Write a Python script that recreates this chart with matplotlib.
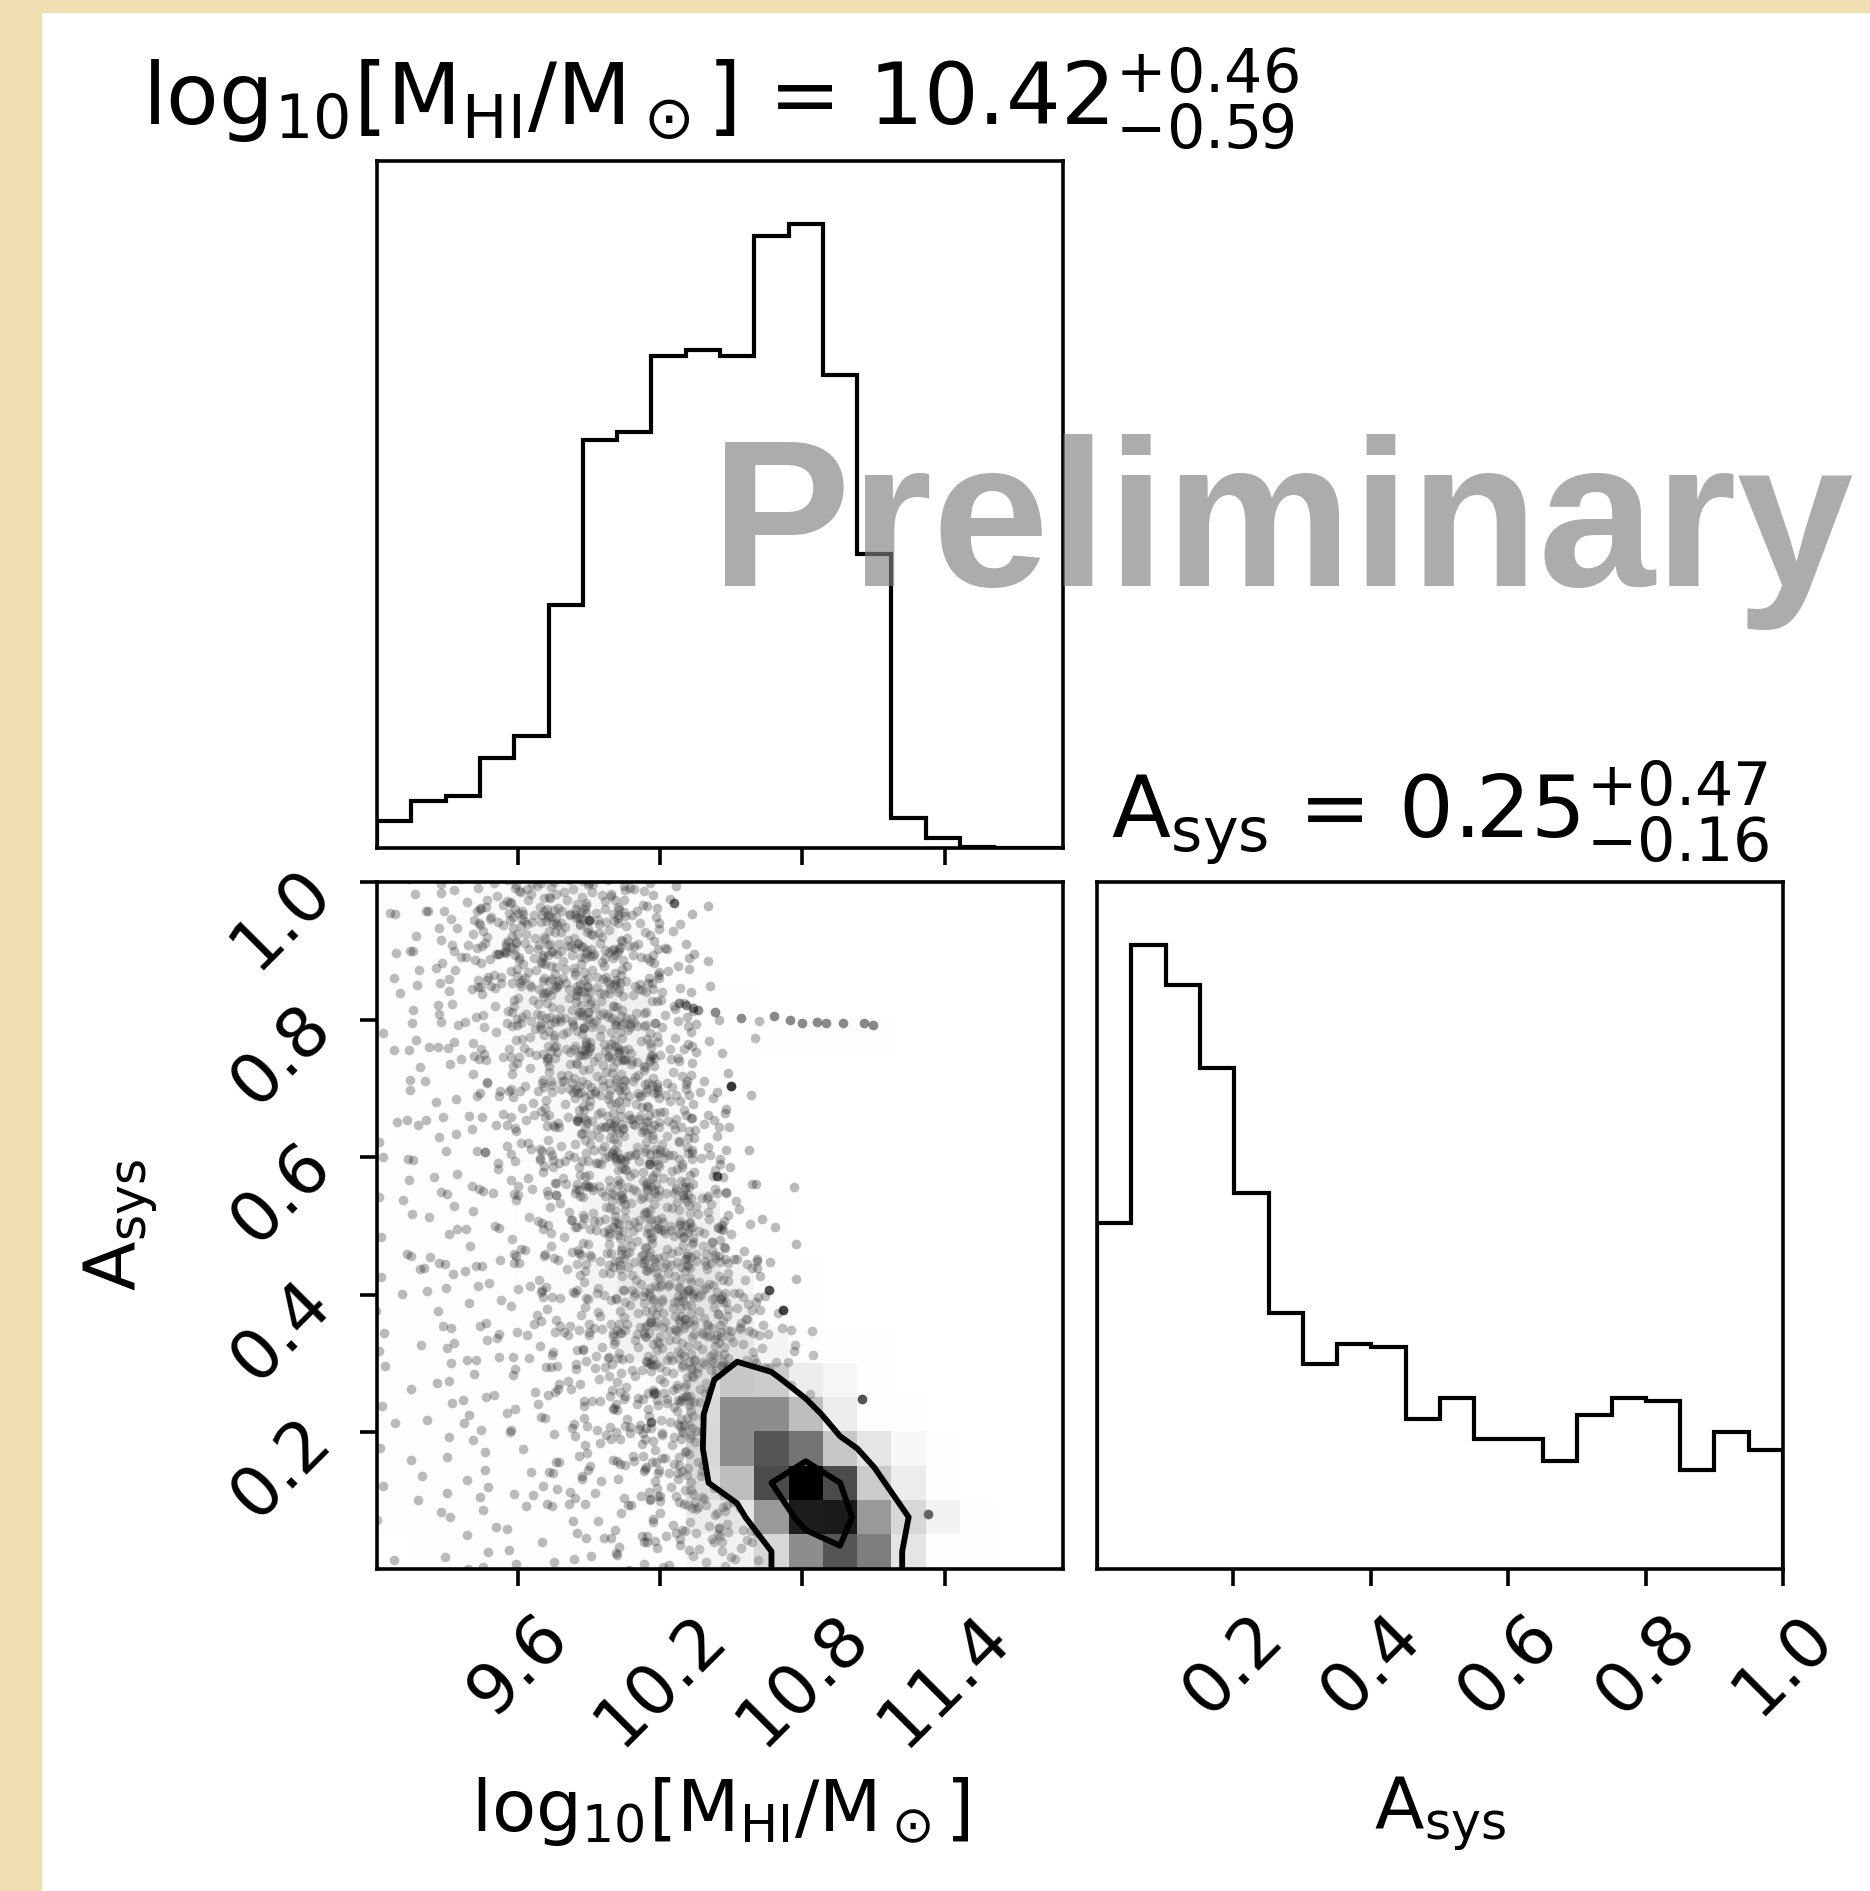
import numpy as np
import matplotlib
matplotlib.use("Agg")
import matplotlib.pyplot as plt
from matplotlib.colors import LinearSegmentedColormap
from matplotlib.patches import Rectangle

# ---------------------------------------------------------------- data
n_bins = 20
logm_range = (9.005, 11.90)
asys_range = (0.002, 1.0)

# marginal posterior histograms (samples per bin)
logm_hist = [27, 47, 52, 91, 114, 247, 415, 423, 500, 506,
             500, 622, 635, 481, 299, 30, 10, 1, 0, 0]
asys_hist = [355, 641, 599, 514, 386, 263, 210, 231, 228, 154,
             175, 133, 133, 111, 158, 175, 172, 101, 140, 122]

# smoothed joint 2-D histogram (density shading and contours): one row per
# A_sys bin, from the highest A_sys bin down to the lowest; 20 log M bins
joint_rows_top_down = [
    [3, 5, 10, 18, 26, 28, 24, 14, 4, 1, 0, 0, 0, 0, 0, 0, 0, 0, 0, 0],
    [3, 5, 10, 19, 28, 32, 29, 18, 6, 1, 0, 0, 0, 0, 0, 0, 0, 0, 0, 0],
    [3, 4, 8, 14, 20, 24, 22, 12, 4, 1, 0, 0, 0, 0, 0, 0, 0, 0, 0, 0],
    [3, 4, 8, 16, 28, 36, 38, 32, 15, 3, 1, 0, 0, 0, 0, 0, 0, 0, 0, 0],
    [3, 4, 7, 13, 24, 33, 36, 30, 17, 6, 4, 3, 3, 2, 1, 0, 0, 0, 0, 0],
    [3, 4, 6, 11, 20, 30, 36, 33, 19, 6, 1, 0, 0, 0, 0, 0, 0, 0, 0, 0],
    [2, 3, 4, 6, 11, 19, 25, 25, 19, 7, 1, 0, 0, 0, 0, 0, 0, 0, 0, 0],
    [2, 3, 4, 6, 11, 19, 27, 30, 28, 12, 2, 0, 0, 0, 0, 0, 0, 0, 0, 0],
    [2, 3, 4, 6, 9, 16, 25, 30, 30, 16, 3, 0, 0, 0, 0, 0, 0, 0, 0, 0],
    [2, 3, 4, 6, 9, 16, 27, 36, 40, 32, 10, 1, 0, 0, 0, 0, 0, 0, 0, 0],
    [2, 3, 3, 5, 8, 13, 22, 30, 35, 32, 10, 2, 0, 0, 0, 0, 0, 0, 0, 0],
    [2, 3, 4, 6, 9, 15, 27, 38, 44, 42, 27, 6, 1, 0, 0, 0, 0, 0, 0, 0],
    [2, 3, 4, 6, 8, 14, 24, 35, 44, 44, 33, 10, 2, 0, 0, 0, 0, 0, 0, 0],
    [2, 3, 4, 5, 7, 12, 20, 30, 40, 44, 44, 26, 12, 5, 2, 0, 0, 0, 0, 0],
    [1, 2, 2, 3, 4, 6, 10, 16, 25, 48, 63, 61, 35, 23, 5, 0, 0, 0, 0, 0],
    [1, 2, 2, 3, 4, 5, 8, 12, 22, 52, 90, 90, 68, 35, 10, 2, 0, 0, 0, 0],
    [1, 2, 2, 3, 3, 4, 6, 9, 18, 53, 90, 110, 100, 63, 43, 23, 5, 0, 0, 0],
    [1, 1, 2, 2, 3, 3, 4, 6, 14, 50, 68, 113, 135, 113, 61, 35, 8, 0, 0, 0],
    [1, 1, 1, 2, 2, 2, 3, 5, 10, 36, 43, 85, 127, 128, 85, 53, 30, 5, 0, 0],
    [0, 1, 1, 1, 1, 2, 2, 3, 6, 25, 30, 53, 90, 110, 96, 43, 10, 2, 0, 0],
]

# plotted sample points per bin, same layout as above
point_rows_top_down = [
    [3, 4, 8, 16, 22, 24, 22, 14, 5, 1, 0, 0, 0, 0, 0, 0, 0, 0, 0, 0],
    [3, 4, 8, 16, 22, 25, 24, 15, 6, 1, 0, 0, 0, 0, 0, 0, 0, 0, 0, 0],
    [3, 4, 7, 14, 20, 24, 24, 16, 7, 2, 0, 0, 0, 0, 0, 0, 0, 0, 0, 0],
    [3, 3, 5, 10, 18, 24, 25, 20, 10, 3, 1, 0, 0, 0, 0, 0, 0, 0, 0, 0],
    [3, 3, 4, 8, 15, 22, 25, 22, 12, 3, 1, 0, 0, 0, 0, 0, 0, 0, 0, 0],
    [3, 3, 4, 7, 12, 20, 25, 24, 14, 5, 1, 0, 0, 0, 0, 0, 0, 0, 0, 0],
    [2, 3, 3, 6, 9, 16, 24, 25, 18, 7, 2, 0, 0, 0, 0, 0, 0, 0, 0, 0],
    [2, 3, 3, 5, 8, 14, 22, 25, 22, 10, 2, 0, 0, 0, 0, 0, 0, 0, 0, 0],
    [2, 3, 3, 5, 7, 12, 20, 25, 24, 13, 3, 1, 0, 0, 0, 0, 0, 0, 0, 0],
    [2, 3, 3, 4, 6, 10, 18, 24, 25, 18, 6, 1, 0, 0, 0, 0, 0, 0, 0, 0],
    [2, 3, 3, 4, 6, 9, 16, 22, 25, 22, 8, 2, 0, 0, 0, 0, 0, 0, 0, 0],
    [2, 3, 3, 4, 5, 8, 14, 20, 25, 24, 12, 3, 0, 0, 0, 0, 0, 0, 0, 0],
    [2, 2, 3, 4, 5, 8, 12, 18, 24, 25, 16, 5, 1, 0, 0, 0, 0, 0, 0, 0],
    [2, 2, 3, 3, 5, 7, 11, 16, 22, 25, 18, 7, 1, 0, 0, 0, 0, 0, 0, 0],
    [2, 2, 3, 3, 4, 6, 10, 14, 20, 24, 18, 8, 1, 0, 0, 0, 0, 0, 0, 0],
    [2, 2, 2, 3, 4, 5, 8, 12, 18, 22, 18, 8, 1, 0, 0, 0, 0, 0, 0, 0],
    [1, 2, 2, 3, 3, 5, 7, 10, 14, 18, 15, 8, 2, 1, 0, 0, 0, 0, 0, 0],
    [1, 2, 2, 2, 3, 4, 6, 8, 12, 15, 12, 8, 3, 1, 0, 0, 0, 0, 0, 0],
    [1, 2, 2, 2, 3, 4, 5, 7, 10, 12, 10, 8, 4, 2, 1, 0, 0, 0, 0, 0],
    [1, 1, 2, 2, 2, 3, 4, 6, 8, 10, 8, 8, 4, 2, 1, 0, 0, 0, 0, 0],
]

# individually visible samples: the narrow A_sys ~ 0.8 track and a few
# heavily repeated chain positions (weight = number of repeats)
track_logm = [10.28, 10.31, 10.34, 10.36, 10.43, 10.54, 10.68, 10.75,
              10.80, 10.86, 10.90, 10.97, 11.06, 11.10]
track_asys = [0.824, 0.821, 0.817, 0.814, 0.811, 0.803, 0.805, 0.799,
              0.795, 0.796, 0.795, 0.795, 0.795, 0.792]
heavy_logm = [10.50, 10.44, 10.72, 10.66, 11.05, 11.33, 10.16, 9.90, 10.26]
heavy_asys = [0.704, 0.573, 0.378, 0.407, 0.248, 0.081, 0.215, 0.945, 0.97]
heavy_weight = [5, 4, 5, 4, 4, 4, 3, 3, 3]

logm_ticks = [9.6, 10.2, 10.8, 11.4]
asys_ticks = [0.2, 0.4, 0.6, 0.8, 1.0]
contour_levels = [0.118, 0.393]          # enclosed probability mass

logm_label = r"$\rm log_{10}[M_{HI}/M_\odot]$"
asys_label = r"$\rm A_{sys}$"
logm_summary = ("10.42", "0.59", "0.46")  # median, -err, +err
asys_summary = ("0.25", "0.16", "0.47")
watermark = "Preliminary"

# ---------------------------------------------------------------- style
W, H_PX = 1870, 1891
TICK_FS = 50
LABEL_FS = 52
TITLE_FS = 62
LW_AX = 2.6
LW_HIST = 3.0
LW_CONT = 4.2
DOT_MS = 7.0
DOT_ALPHA = 0.27

plt.rcParams.update({
    "font.family": ["DejaVu Sans"],
    "axes.linewidth": LW_AX,
    "xtick.major.width": LW_AX,
    "ytick.major.width": LW_AX,
    "xtick.major.size": 12,
    "ytick.major.size": 12,
    "xtick.major.pad": 12,
    "ytick.major.pad": 12,
    "xtick.labelsize": TICK_FS,
    "ytick.labelsize": TICK_FS,
})

fig = plt.figure(figsize=(W / 100, H_PX / 100), dpi=100, facecolor="#efdfb0")
fig.patches.append(Rectangle((42 / W, 0), 1 - 42 / W, 1 - 13 / H_PX,
                             transform=fig.transFigure, facecolor="white",
                             edgecolor="none", zorder=-10))

aw, ah = 686 / W, 686.5 / H_PX
ax_top = fig.add_axes([377 / W, 1 - 847.6 / H_PX, aw, ah])
ax_2d = fig.add_axes([377 / W, 1 - 1568.6 / H_PX, aw, ah])
ax_rt = fig.add_axes([1097 / W, 1 - 1568.6 / H_PX, aw, ah])

xe = np.linspace(logm_range[0], logm_range[1], n_bins + 1)
ye = np.linspace(asys_range[0], asys_range[1], n_bins + 1)


def title_text(label, summary):
    med, lo, hi = summary
    return f"{label} = ${med}_{{-{lo}}}^{{+{hi}}}$"


def radical_inverse(idx, base):
    """Van der Corput radical inverse of each integer in idx."""
    out = np.zeros(len(idx))
    for j, i in enumerate(idx):
        f, r = 1.0, 0.0
        while i > 0:
            f /= base
            r += f * (i % base)
            i //= base
        out[j] = r
    return out


# ---- 1-D marginals
ax_top.stairs(logm_hist, xe, color="k", linewidth=LW_HIST, baseline=0)
ax_top.set_xlim(*logm_range)
ax_top.set_ylim(0, 1.1 * max(logm_hist))
ax_top.set_yticks([])
ax_top.set_xticks(logm_ticks)
ax_top.set_xticklabels([])
ax_top.set_title(title_text(logm_label, logm_summary), fontsize=TITLE_FS, pad=26)

ax_rt.stairs(asys_hist, ye, color="k", linewidth=LW_HIST, baseline=0)
ax_rt.set_xlim(*asys_range)
ax_rt.set_ylim(0, 1.1 * max(asys_hist))
ax_rt.set_yticks([])
ax_rt.set_xticks(asys_ticks)
ax_rt.set_xticklabels([f"{t:.1f}" for t in asys_ticks], rotation=45)
ax_rt.set_title(title_text(asys_label, asys_summary), fontsize=TITLE_FS, pad=31)
ax_rt.set_xlabel(asys_label, fontsize=LABEL_FS)
ax_rt.xaxis.set_label_coords(0.5, -0.3)

# ---- joint distribution
Hgrid = np.array(joint_rows_top_down[::-1], dtype=float).T      # [ix, iy]
Pgrid = np.array(point_rows_top_down[::-1], dtype=int).T        # [ix, iy]

# binned sample points: each bin's points are laid out with a Halton (2, 3)
# stipple over the bin, spilling a little into the neighbouring bins
dx, dy = np.diff(xe)[0], np.diff(ye)[0]
spread = 1.5
px, py = [], []
for ix in range(n_bins):
    for iy in range(n_bins):
        n = Pgrid[ix, iy]
        if n == 0:
            continue
        k = np.arange(n) + 1 + 13 * ix + 29 * iy
        sx = (ix * 0.3819660113 + iy * 0.7071067812) % 1.0
        sy = (ix * 0.5698402910 + iy * 0.3183098862) % 1.0
        ux = (radical_inverse(k, 2) + sx) % 1.0
        uy = (radical_inverse(k, 3) + sy) % 1.0
        px.append(xe[ix] + dx * (0.5 + spread * (ux - 0.5)))
        py.append(ye[iy] + dy * (0.5 + spread * (uy - 0.5)))
px = np.concatenate(px)
py = np.concatenate(py)
dot_style = dict(ls="none", marker="o", ms=DOT_MS, color="k", mec="none", zorder=-1)
ax_2d.plot(px, py, alpha=DOT_ALPHA, **dot_style)
ax_2d.plot(track_logm, track_asys, alpha=1 - (1 - DOT_ALPHA) ** 2, **dot_style)
for xv, yv, wv in zip(heavy_logm, heavy_asys, heavy_weight):
    ax_2d.plot([xv], [yv], alpha=1 - (1 - DOT_ALPHA) ** wv, **dot_style)

# contour levels from enclosed mass
Hflat = np.sort(Hgrid.flatten())[::-1]
sm = np.cumsum(Hflat)
sm /= sm[-1]
V = np.array([Hflat[sm <= lv][-1] for lv in contour_levels])
V.sort()

# padded grid so that contours run out past the plot edges
X1 = 0.5 * (xe[1:] + xe[:-1])
Y1 = 0.5 * (ye[1:] + ye[:-1])
H2 = Hgrid.min() + np.zeros((n_bins + 4, n_bins + 4))
H2[2:-2, 2:-2] = Hgrid
H2[2:-2, 1] = Hgrid[:, 0]
H2[2:-2, -2] = Hgrid[:, -1]
H2[1, 2:-2] = Hgrid[0]
H2[-2, 2:-2] = Hgrid[-1]
H2[1, 1] = Hgrid[0, 0]
H2[1, -2] = Hgrid[0, -1]
H2[-2, 1] = Hgrid[-1, 0]
H2[-2, -2] = Hgrid[-1, -1]
X2 = np.concatenate([X1[0] + np.array([-2, -1]) * dx, X1, X1[-1] + np.array([1, 2]) * dx])
Y2 = np.concatenate([Y1[0] + np.array([-2, -1]) * dy, Y1, Y1[-1] + np.array([1, 2]) * dy])

ax_2d.contourf(X2, Y2, H2.T, [V.min(), Hgrid.max()], colors=["white"],
               antialiased=False)
density_cmap = LinearSegmentedColormap.from_list("density", ["k", (1, 1, 1, 0)])
ax_2d.pcolormesh(xe, ye, Hgrid.max() - Hgrid.T, cmap=density_cmap, shading="flat")
ax_2d.contour(X2, Y2, H2.T, V, colors="k", linewidths=LW_CONT)

ax_2d.set_xlim(*logm_range)
ax_2d.set_ylim(*asys_range)
ax_2d.set_xticks(logm_ticks)
ax_2d.set_xticklabels([f"{t:.1f}" for t in logm_ticks], rotation=45)
ax_2d.set_yticks(asys_ticks)
ax_2d.set_yticklabels([f"{t:.1f}" for t in asys_ticks], rotation=45)
ax_2d.set_xlabel(logm_label, fontsize=LABEL_FS)
ax_2d.set_ylabel(asys_label, fontsize=LABEL_FS)
ax_2d.xaxis.set_label_coords(0.5, -0.3)
ax_2d.yaxis.set_label_coords(-0.315, 0.5)

# ---- watermark
fig.text(711 / W, 1 - 586 / H_PX, watermark, fontsize=151, fontweight="bold",
         family="Liberation Sans", color=(0.5, 0.5, 0.5), alpha=0.65,
         ha="left", va="baseline")

fig.savefig("out.png", dpi=100, facecolor=fig.get_facecolor())
